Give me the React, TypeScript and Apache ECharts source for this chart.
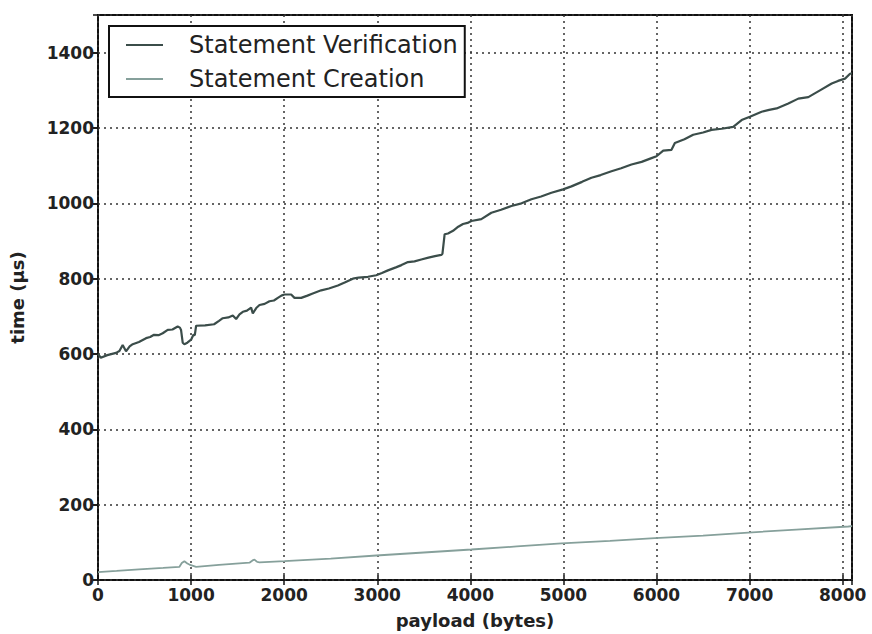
import React, { useEffect, useRef } from "react";
import * as echarts from "echarts";

const verificationX = [0, 30, 100, 194, 230, 265, 301, 340, 373, 440, 516, 560, 602, 650, 695, 749, 800, 856, 880, 892, 910, 928, 960, 1000, 1025, 1040, 1054, 1150, 1247, 1300, 1340, 1400, 1448, 1484, 1520, 1556, 1600, 1645, 1663, 1700, 1735, 1790, 1842, 1890, 1932, 1970, 2003, 2075, 2111, 2183, 2250, 2300, 2398, 2480, 2577, 2650, 2738, 2800, 2900, 2989, 3050, 3115, 3200, 3260, 3330, 3400, 3473, 3550, 3620, 3688, 3700, 3724, 3760, 3814, 3870, 3921, 3970, 4011, 4118, 4226, 4330, 4441, 4550, 4656, 4760, 4871, 4996, 5086, 5200, 5301, 5400, 5516, 5620, 5731, 5840, 5946, 6000, 6072, 6161, 6197, 6300, 6394, 6500, 6591, 6700, 6824, 6914, 7003, 7129, 7210, 7290, 7416, 7523, 7631, 7700, 7756, 7882, 7950, 8025, 8079, 8100];
const verificationY = [600, 590, 597, 603, 608, 624, 607, 620, 626, 632, 642, 645, 651, 650, 655, 664, 665, 673, 670, 664, 630, 626, 630, 638, 651, 650, 675, 676, 679, 688, 695, 697, 702, 693, 705, 712, 715, 723, 708, 722, 730, 733, 740, 742, 749, 755, 758, 758, 749, 749, 755, 760, 769, 774, 782, 790, 800, 803, 805, 809, 815, 822, 830, 836, 844, 846, 851, 856, 860, 863, 866, 918, 920, 927, 938, 945, 948, 953, 958, 975, 983, 993, 1000, 1011, 1018, 1028, 1037, 1045, 1057, 1068, 1075, 1085, 1093, 1103, 1110, 1120, 1125, 1140, 1142, 1160, 1170, 1182, 1188, 1195, 1198, 1203, 1221, 1230, 1243, 1248, 1252, 1265, 1278, 1282, 1292, 1300, 1318, 1325, 1331, 1344, 1345];

const creationX = [0, 200, 441, 700, 875, 900, 928, 960, 982, 1054, 1300, 1627, 1660, 1681, 1710, 1735, 2003, 2500, 2989, 3500, 4011, 4500, 4979, 5500, 5982, 6500, 6986, 7500, 8061, 8100];
const creationY = [21, 24, 28, 32, 35, 45, 50, 44, 41, 35, 40, 46, 52, 54, 48, 47, 50, 57, 65, 73, 81, 89, 97, 104, 111, 118, 126, 134, 142, 143];

const seriesNames = ["Statement Verification", "Statement Creation"];
const xAxisName = "payload (bytes)";
const yAxisName = "time (\u03bcs)";

const FONT = "DejaVu Sans";

export default function App() {
  const ref = useRef<HTMLDivElement>(null);
  useEffect(() => {
    if (!ref.current) return;
    const chart = echarts.init(ref.current, null, { renderer: "svg" });
    const zip = (xs: number[], ys: number[]) => xs.map((x, i) => [x, ys[i]]);
    const tickStyle = { inside: true, length: 5, lineStyle: { color: "#111", width: 1.5 } };
    const plain = (v: number) => String(v);
    chart.setOption({
      animation: false,
      backgroundColor: "#fff",
      textStyle: { fontFamily: FONT },
      grid: {
        left: 97,
        right: 20,
        top: 15,
        bottom: 51,
        show: true,
        borderColor: "#111",
        borderWidth: 2,
        backgroundColor: "transparent",
      },
      legend: {
        orient: "vertical",
        left: 109,
        top: 26,
        data: seriesNames,
        icon: "rect",
        itemWidth: 37,
        itemHeight: 2,
        itemGap: 4,
        padding: [4, 7, 3, 17],
        borderColor: "#111",
        borderWidth: 2,
        backgroundColor: "#fff",
        textStyle: {
          fontFamily: FONT,
          fontSize: 24,
          color: "#222",
          lineHeight: 30,
          padding: [0, 0, 0, 21],
        },
      },
      xAxis: [
        {
          type: "value",
          min: 0,
          max: 8100,
          interval: 1000,
          name: xAxisName,
          nameLocation: "middle",
          nameGap: 31,
          nameTextStyle: { fontFamily: FONT, fontSize: 18, fontWeight: "bold", color: "#222" },
          axisLine: { show: false },
          axisTick: tickStyle,
          axisLabel: {
            fontFamily: FONT,
            fontSize: 17,
            fontWeight: "bold",
            color: "#222",
            margin: 6,
            showMaxLabel: false,
            formatter: plain,
          },
          splitLine: { show: true, lineStyle: { color: "#333", type: [2, 4], width: 1.5 } },
        },
        {
          type: "value",
          position: "top",
          min: 0,
          max: 8100,
          interval: 1000,
          axisLine: { show: false },
          axisTick: tickStyle,
          axisLabel: { show: false },
          splitLine: { show: false },
        },
      ],
      yAxis: [
        {
          type: "value",
          min: 0,
          max: 1500,
          interval: 200,
          name: yAxisName,
          nameLocation: "middle",
          nameGap: 72,
          nameTextStyle: { fontFamily: FONT, fontSize: 18, fontWeight: "bold", color: "#222" },
          axisLine: { show: false },
          axisTick: { inside: false, length: 5, lineStyle: { color: "#111", width: 1.5 } },
          axisLabel: {
            fontFamily: FONT,
            fontSize: 17,
            fontWeight: "bold",
            color: "#222",
            margin: 4,
            showMaxLabel: false,
            formatter: plain,
          },
          splitLine: { show: true, lineStyle: { color: "#333", type: [2, 4], width: 1.5 } },
        },
        {
          type: "value",
          position: "right",
          min: 0,
          max: 1500,
          interval: 200,
          axisLine: { show: false },
          axisTick: tickStyle,
          axisLabel: { show: false },
          splitLine: { show: false },
        },
      ],
      series: [
        {
          name: seriesNames[0],
          type: "line",
          data: zip(verificationX, verificationY),
          symbol: "none",
          lineStyle: { color: "#3b4d4a", width: 2.2 },
          itemStyle: { color: "#3b4d4a" },
          z: 3,
        },
        {
          name: seriesNames[1],
          type: "line",
          data: zip(creationX, creationY),
          symbol: "none",
          lineStyle: { color: "#86a09b", width: 1.8 },
          itemStyle: { color: "#86a09b" },
          z: 3,
        },
      ],
    });
    return () => chart.dispose();
  }, []);
  return (
    <div
      ref={ref}
      style={{ position: "fixed", left: 0, top: 0, width: 872, height: 634, background: "#fff" }}
    />
  );
}
